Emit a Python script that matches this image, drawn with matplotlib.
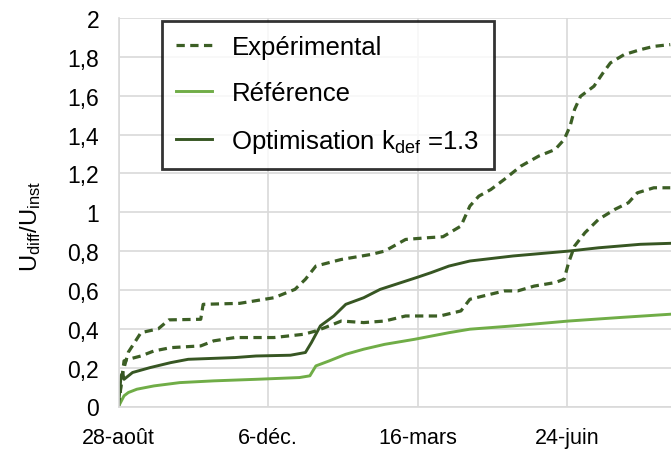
import matplotlib
matplotlib.use("Agg")
import matplotlib.pyplot as plt

plt.rcParams['font.family'] = ['Liberation Sans', 'DejaVu Sans']
plt.rcParams['mathtext.fontset'] = 'custom'
plt.rcParams['mathtext.rm'] = 'Liberation Sans'
plt.rcParams['mathtext.it'] = 'Liberation Sans'

# Days since 28 August
tick_days = [0, 100, 200, 300]
tick_labels = ['28-août', '6-déc.', '16-mars', '24-juin']
y_ticks = [0, 0.2, 0.4, 0.6, 0.8, 1.0, 1.2, 1.4, 1.6, 1.8, 2.0]
y_tick_labels = ['0', '0,2', '0,4', '0,6', '0,8', '1', '1,2', '1,4', '1,6', '1,8', '2']

exp1_days = [0, 2.3, 6.6, 15, 26.6, 33.7, 55, 56.6, 81, 104, 118, 125, 132, 149, 169, 178,
             192, 207, 217, 229, 235, 241, 249, 258, 269, 281, 292, 298, 302, 305, 309,
             318, 324, 329, 338, 349, 358, 369]
exp1_vals = [0, 0.16, 0.28, 0.38, 0.40, 0.446, 0.449, 0.526, 0.531, 0.56, 0.603, 0.655, 0.723,
             0.757, 0.783, 0.80, 0.86, 0.869, 0.874, 0.929, 1.032, 1.083, 1.117, 1.169, 1.237,
             1.289, 1.323, 1.374, 1.443, 1.529, 1.597, 1.649, 1.717, 1.769, 1.811, 1.837,
             1.854, 1.863]

exp2_days = [0, 1.7, 3.7, 6.6, 15, 23.7, 35, 55, 63.7, 78, 104, 124, 132, 138, 149, 164, 178,
             192, 215, 229, 235, 244, 258, 267, 278, 292, 298, 301, 305, 312, 321, 332, 341,
             347, 358, 369]
exp2_vals = [0, 0.106, 0.235, 0.243, 0.26, 0.286, 0.303, 0.312, 0.338, 0.355, 0.355, 0.372,
             0.389, 0.406, 0.44, 0.432, 0.44, 0.466, 0.466, 0.492, 0.552, 0.569, 0.595, 0.595,
             0.62, 0.638, 0.655, 0.74, 0.826, 0.895, 0.963, 1.015, 1.049, 1.10, 1.126, 1.126]

opt_days = [0, 1.7, 2.9, 3.7, 9.4, 21, 35, 46.6, 78, 92, 115, 125, 129, 135, 144, 152, 164,
            175, 189, 199, 209, 221, 235, 264, 301, 321, 349, 369]
opt_vals = [0, 0.158, 0.175, 0.14, 0.175, 0.20, 0.226, 0.243, 0.252, 0.26, 0.264, 0.278,
            0.329, 0.415, 0.466, 0.526, 0.56, 0.603, 0.638, 0.663, 0.689, 0.723, 0.749,
            0.775, 0.80, 0.817, 0.835, 0.84]

ref_days = [0, 3.7, 6.6, 12.3, 23.7, 41, 63.7, 92, 121, 128, 132, 141, 152, 164, 178, 198,
            221, 235, 264, 301, 335, 369]
ref_vals = [0, 0.055, 0.072, 0.089, 0.106, 0.123, 0.132, 0.14, 0.149, 0.158, 0.209, 0.235,
            0.269, 0.295, 0.32, 0.346, 0.38, 0.398, 0.415, 0.44, 0.458, 0.475]

dark = '#375623'
dash_col = '#3c5f25'
light = '#70ad47'

fig = plt.figure(figsize=(6.71, 4.52), dpi=100)
ax = fig.add_axes([118.5 / 671, 1 - 407.5 / 452, 1 - 118.5 / 671, (407.5 - 19) / 452])

ls_dash = (0, (2.6, 1.7))
l1, = ax.plot(exp1_days, exp1_vals, color=dash_col, lw=2.3, linestyle=ls_dash, label='Expérimental')
ax.plot(exp2_days, exp2_vals, color=dash_col, lw=2.3, linestyle=ls_dash)
l2, = ax.plot(ref_days, ref_vals, color=light, lw=2.1, label='Référence')
l3, = ax.plot(opt_days, opt_vals, color=dark, lw=2.1,
              label=r'Optimisation k$_{\mathregular{def}}$ =1.3')

ax.set_xlim(0, 369.5)
ax.set_ylim(0, 2)
ax.set_xticks(tick_days)
ax.set_xticklabels(tick_labels)
ax.set_yticks(y_ticks)
ax.set_yticklabels(y_tick_labels)
ax.tick_params(axis='x', length=0, labelsize=15.5, colors='black', pad=15)
ax.tick_params(axis='y', length=0, labelsize=16.5, colors='black', pad=14)
ax.grid(True, color='#d9d9d9', lw=1.2)
ax.set_axisbelow(True)
for s in ['top', 'right']:
    ax.spines[s].set_visible(False)
for s in ['left', 'bottom']:
    ax.spines[s].set_color('#d9d9d9')
    ax.spines[s].set_linewidth(1.2)

ax.set_ylabel(r'U$_{\mathregular{diff}}$/U$_{\mathregular{inst}}$', fontsize=17)
ax.yaxis.set_label_coords(43 / 671, 0.5, transform=fig.transFigure)

leg = ax.legend(handles=[l1, l2, l3], loc='upper left',
                bbox_to_anchor=(162 / 671, 1 - 22 / 452), bbox_transform=fig.transFigure,
                fontsize=18.5, frameon=True, fancybox=False, handlelength=1.4,
                handletextpad=0.75, labelspacing=0.85, borderpad=0.55, borderaxespad=0)
leg.get_frame().set_edgecolor('black')
leg.get_frame().set_linewidth(2)

fig.savefig('out.png', dpi=100)
